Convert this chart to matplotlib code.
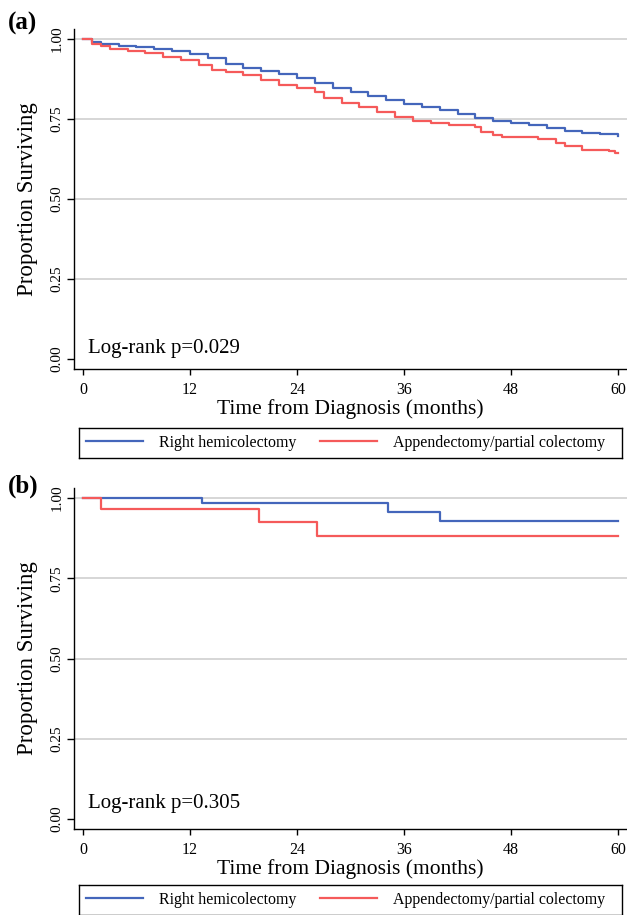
import numpy as np
import matplotlib.pyplot as plt
from matplotlib.lines import Line2D

plt.rcParams['font.family'] = ['Liberation Serif', 'DejaVu Serif']

# panel (a) survival curves
a_rh_t = [0, 1, 2, 4, 6, 8, 10, 12, 14, 16, 18, 20, 22, 24, 26, 28, 30, 32, 34,
          36, 38, 40, 42, 44, 46, 48, 50, 52, 54, 56, 58, 60]
a_rh_s = [1.0, 0.99, 0.983, 0.979, 0.975, 0.968, 0.962, 0.952, 0.940, 0.922, 0.910,
          0.900, 0.890, 0.877, 0.862, 0.848, 0.835, 0.822, 0.810, 0.797, 0.787,
          0.778, 0.765, 0.753, 0.745, 0.737, 0.730, 0.722, 0.712, 0.705, 0.703, 0.697]
a_ap_t = [0, 1, 2, 3, 5, 7, 9, 11, 13, 14.5, 16, 18, 20, 22, 24, 26, 27, 29, 31,
          33, 35, 37, 39, 41, 44, 44.6, 46, 47, 51, 53, 54, 56, 59, 59.6, 60]
a_ap_s = [1.0, 0.985, 0.978, 0.970, 0.963, 0.955, 0.945, 0.933, 0.918, 0.903, 0.897,
          0.887, 0.872, 0.855, 0.847, 0.835, 0.816, 0.800, 0.788, 0.772, 0.757,
          0.743, 0.738, 0.730, 0.725, 0.709, 0.700, 0.694, 0.687, 0.675, 0.666,
          0.652, 0.650, 0.643, 0.643]

# panel (b)
b_rh_t = [0, 13.3, 34.2, 40, 60]
b_rh_s = [1.0, 0.983, 0.957, 0.928, 0.928]
b_ap_t = [0, 2, 19.7, 26.2, 60]
b_ap_s = [1.0, 0.966, 0.926, 0.881, 0.881]

pvals = ['Log-rank p=0.029', 'Log-rank p=0.305']
labels = ['Right hemicolectomy', 'Appendectomy/partial colectomy']
blue = '#4466BB'
red = '#F55A5A'

W, H = 627, 915
fig = plt.figure(figsize=(W / 100, H / 100), dpi=100)

# pixel boxes: (top, bottom) of axes and legend
panels = [
    dict(top=29, bot=369, tag='(a)', tagy=23, leg=(428, 458),
         curves=[(a_rh_t, a_rh_s), (a_ap_t, a_ap_s)], p=pvals[0], py=0.034),
    dict(top=488, bot=829, tag='(b)', tagy=486, leg=(885, 915),
         curves=[(b_rh_t, b_rh_s), (b_ap_t, b_ap_s)], p=pvals[1], py=0.047),
]

for pan in panels:
    ax = fig.add_axes([74 / W, 1 - pan['bot'] / H, (W - 74) / W,
                       (pan['bot'] - pan['top']) / H])
    for (t, s), c in zip(pan['curves'], [blue, red]):
        ax.plot(t, s, drawstyle='steps-post', color=c, lw=1.6)
    ax.set_xlim(-1.0, 61.0)
    ax.set_ylim(-0.031, 1.031)
    ax.set_xticks([0, 12, 24, 36, 48, 60])
    ax.set_yticks([0, 0.25, 0.5, 0.75, 1.0])
    ax.set_yticklabels(['0.00', '0.25', '0.50', '0.75', '1.00'],
                       rotation=90, va='center')
    for g in [0.25, 0.5, 0.75, 1.0]:
        ax.axhline(g, color='#D3D3D3', lw=1.3, zorder=0)
    for sp in ['top', 'right']:
        ax.spines[sp].set_visible(False)
    for sp in ['left', 'bottom']:
        ax.spines[sp].set_linewidth(1.0)
    ax.tick_params(axis='x', labelsize=11.5, length=4.5, width=1.0, pad=5)
    ax.tick_params(axis='y', labelsize=11, length=5, width=1.0, pad=2.5)
    ax.set_ylabel('Proportion Surviving', fontsize=16.5, labelpad=9)
    ax.set_xlabel('Time from Diagnosis (months)', fontsize=15.5, labelpad=1)
    ax.text(0.6, pan['py'], pan['p'], fontsize=15, va='center', ha='left')
    fig.text(8 / W, 1 - pan['tagy'] / H, pan['tag'], fontsize=18,
             fontweight='bold', va='center', ha='left')

    # legend box below the panel
    ltop, lbot = pan['leg']
    lax = fig.add_axes([79 / W, 1 - lbot / H, 543 / W, (lbot - ltop) / H])
    lax.set_xticks([])
    lax.set_yticks([])
    for sp in lax.spines.values():
        sp.set_linewidth(1.0)
        sp.set_edgecolor('black')
    handles = [Line2D([], [], color=blue, lw=1.6), Line2D([], [], color=red, lw=1.6)]
    lax.legend(handles, labels, loc='center left', ncol=2, fontsize=11.4,
               frameon=False, handlelength=3.6, handletextpad=1.0,
               columnspacing=1.5, borderpad=0, borderaxespad=0.44)

fig.savefig('out.png', dpi=100)
